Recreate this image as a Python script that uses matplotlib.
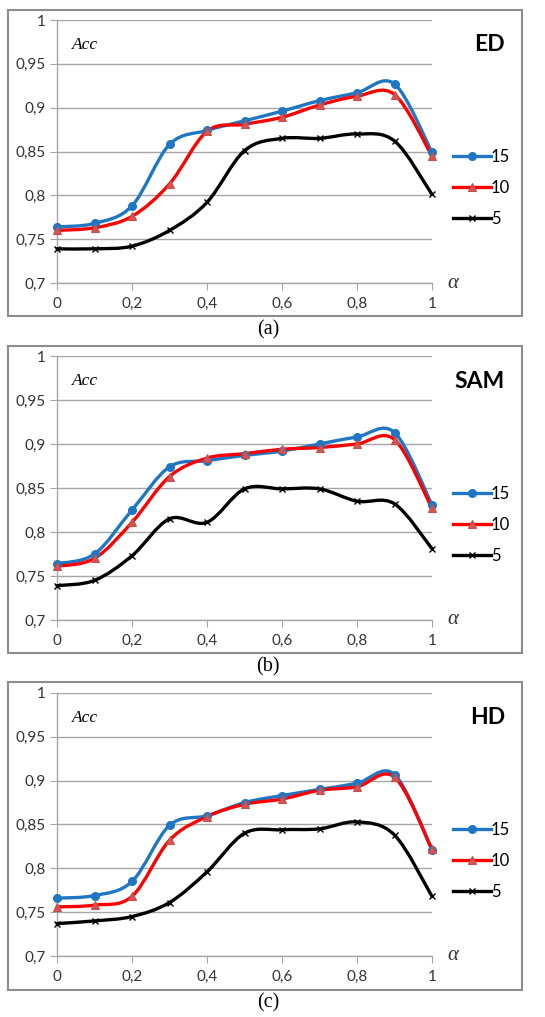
import numpy as np
import matplotlib
matplotlib.use("Agg")
import matplotlib.pyplot as plt
from matplotlib.path import Path
from matplotlib.patches import PathPatch, Rectangle
from matplotlib.lines import Line2D

# --- datos ---
alpha = [0.0, 0.1, 0.2, 0.3, 0.4, 0.5, 0.6, 0.7, 0.8, 0.9, 1.0]

ed_15 = [0.764, 0.768, 0.788, 0.858, 0.874, 0.885, 0.896, 0.908, 0.917, 0.927, 0.849]
ed_10 = [0.760, 0.763, 0.776, 0.813, 0.873, 0.881, 0.889, 0.903, 0.913, 0.915, 0.845]
ed_5 = [0.739, 0.739, 0.742, 0.760, 0.792, 0.851, 0.865, 0.865, 0.870, 0.862, 0.801]

sam_15 = [0.764, 0.775, 0.825, 0.874, 0.881, 0.887, 0.892, 0.900, 0.908, 0.913, 0.831]
sam_10 = [0.761, 0.770, 0.811, 0.863, 0.884, 0.889, 0.894, 0.896, 0.900, 0.905, 0.827]
sam_5 = [0.739, 0.745, 0.773, 0.815, 0.811, 0.849, 0.849, 0.849, 0.835, 0.832, 0.781]

hd_15 = [0.766, 0.769, 0.785, 0.849, 0.860, 0.875, 0.883, 0.890, 0.897, 0.907, 0.821]
hd_10 = [0.756, 0.758, 0.768, 0.832, 0.859, 0.873, 0.879, 0.889, 0.893, 0.904, 0.822]
hd_5 = [0.737, 0.740, 0.745, 0.761, 0.796, 0.840, 0.844, 0.845, 0.853, 0.838, 0.768]

panel_names = ["ED", "SAM", "HD"]
captions = ["(a)", "(b)", "(c)"]
series_labels = ["15", "10", "5"]
y_ticks = [0.7, 0.75, 0.8, 0.85, 0.9, 0.95, 1.0]
y_tick_labels = ["0,7", "0,75", "0,8", "0,85", "0,9", "0,95", "1"]
x_ticks = [0.0, 0.2, 0.4, 0.6, 0.8, 1.0]
x_tick_labels = ["0", "0,2", "0,4", "0,6", "0,8", "1"]

panels = [
    (ed_15, ed_10, ed_5),
    (sam_15, sam_10, sam_5),
    (hd_15, hd_10, hd_5),
]

# estilo de cada serie: color de línea, marcador, relleno
styles = [
    dict(color="#1F77C4", marker="o", mfc="#1F77C4", mec="#1F77C4", ms=5.5, mew=1),
    dict(color="#FF0000", marker="^", mfc="#D9534F", mec="#C0504D", ms=5.5, mew=0.8),
    dict(color="#000000", marker="x", mfc="#000000", mec="#000000", ms=5, mew=1),
]

W, H = 545, 1017
# posiciones en píxeles: (borde superior, borde inferior, y=1.0, y=0.7, caption y)
layout = [
    (10, 316, 20, 283, 330),
    (346, 653, 356, 620, 667),
    (682, 990, 693, 956, 1003),
]
X0, X1 = 57, 432


def smooth_path(x, y):
    """Curva suavizada tipo Excel (Bezier cúbica entre puntos consecutivos)."""
    pts = np.column_stack([x, y])
    n = len(pts)
    verts = [pts[0]]
    codes = [Path.MOVETO]
    for i in range(n - 1):
        p0 = pts[i - 1] if i > 0 else pts[i]
        p1 = pts[i]
        p2 = pts[i + 1]
        p3 = pts[i + 2] if i + 2 < n else pts[i + 1]
        c1 = p1 + (p2 - p0) / 6.0
        c2 = p2 - (p3 - p1) / 6.0
        verts += [c1, c2, p2]
        codes += [Path.CURVE4] * 3
    return Path(verts, codes)


fig = plt.figure(figsize=(W / 100, H / 100), dpi=100, facecolor="white")

for k, (series, (top, bot, y1, y07, cap_y)) in enumerate(zip(panels, layout)):
    # marco exterior del panel
    fig.patches.append(Rectangle((8 / W, 1 - bot / H), (522 - 8) / W, (bot - top) / H,
                                 transform=fig.transFigure, fill=False,
                                 edgecolor="#8C8C8C", linewidth=1.5))

    ax = fig.add_axes([X0 / W, 1 - y07 / H, (X1 - X0) / W, (y07 - y1) / H])
    ax.set_xlim(0, 1)
    ax.set_ylim(0.7, 1.0)
    ax.set_facecolor("none")

    for yt in y_ticks:
        ax.axhline(yt, color="#A6A6A6", linewidth=1, zorder=0)
    for sp in ["top", "right"]:
        ax.spines[sp].set_visible(False)
    for sp in ["left", "bottom"]:
        ax.spines[sp].set_color("#A6A6A6")
        ax.spines[sp].set_linewidth(1)

    ax.set_yticks(y_ticks)
    ax.set_yticklabels(y_tick_labels)
    ax.set_xticks(x_ticks)
    ax.set_xticklabels(x_tick_labels)
    ax.tick_params(axis="both", direction="out", length=5, color="#A6A6A6",
                   labelcolor="#333333", labelsize=11)
    ax.tick_params(axis="y", pad=3)
    ax.tick_params(axis="x", pad=5)
    for lab in ax.get_xticklabels() + ax.get_yticklabels():
        lab.set_family("Lato")

    handles = []
    for vals, st, lab in zip(series, styles, series_labels):
        patch = PathPatch(smooth_path(alpha, vals), facecolor="none",
                          edgecolor=st["color"], linewidth=2.4, zorder=3,
                          clip_on=False, capstyle="round", joinstyle="round")
        ax.add_patch(patch)
        ax.plot(alpha, vals, linestyle="none", marker=st["marker"], ms=st["ms"],
                mfc=st["mfc"], mec=st["mec"], mew=st["mew"], zorder=4, clip_on=False)
        handles.append(Line2D([], [], color=st["color"], linewidth=2.4,
                              marker=st["marker"], ms=st["ms"], mfc=st["mfc"],
                              mec=st["mec"], mew=st["mew"], label=lab))

    ax.legend(handles=handles, loc="center left", bbox_to_anchor=(1.055, 0.36),
              frameon=False, handlelength=2.3, handletextpad=0.0,
              labelspacing=0.9, borderpad=0, borderaxespad=0,
              prop={"family": "Lato", "size": 12})

    ax.text(0.04, 0.905, "Acc", transform=ax.transAxes, fontsize=12.5,
            family="Liberation Serif", style="italic", color="#000000",
            ha="left", va="center")
    ax.text(1.195, 0.905, panel_names[k], transform=ax.transAxes, fontsize=16.5,
            family="Lato", fontweight="bold", ha="right", va="center")
    ax.text(1.04, 0.0, "α", transform=ax.transAxes, fontsize=15,
            family="Liberation Serif", style="italic",
            color="#333333", ha="left", va="center")

    fig.text(268 / W, 1 - cap_y / H, captions[k], fontsize=14.5,
             family="Liberation Serif", ha="center", va="center")

plt.savefig("out.png", dpi=100, facecolor=fig.get_facecolor())
plt.close()
